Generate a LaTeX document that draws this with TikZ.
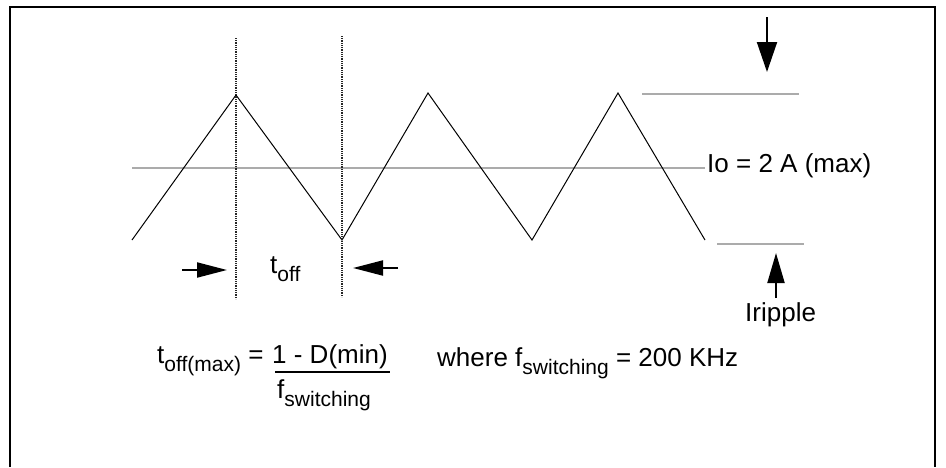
\documentclass[tikz,border=0pt]{standalone}
\usepackage{fontspec}
\setmainfont{Liberation Sans}
\usetikzlibrary{arrows.meta}
\newcommand{\mainsz}{\fontsize{26}{30}\selectfont}
\newcommand{\subtxt}[1]{\raisebox{-8pt}{\fontsize{21}{24}\selectfont #1}}
\begin{document}
\begin{tikzpicture}[x=1pt,y=-1pt,
  lbl/.style={inner sep=0pt, anchor=base west, font=\mainsz},
  wave/.style={line width=1pt, black, line join=miter},
  level/.style={line width=2pt, color=black!33},
  marker/.style={line width=1.3pt, black!85, dash pattern=on 1pt off 0.8pt},
  bigarrow/.style={line width=2pt, -{Triangle[length=30pt,width=20pt]}},
  smallarrow/.style={line width=2pt, -{Triangle[length=30pt,width=15pt]}},
  frame/.style={line width=2.5pt, black}]
\useasboundingbox (0,0) rectangle (946,467);
% frame
\draw[frame] (10,467) -- (10,7) -- (935,7) -- (935,467);
% level lines
\draw[level] (132,168) -- (705,168);
\draw[level] (642,94) -- (799,94);
\draw[level] (717,244) -- (804,244);
% triangle wave
\draw[wave] (132,240) -- (236,95) -- (342,240) -- (428,93) -- (532,240) -- (618,93) -- (705,240);
% dotted markers
\draw[marker] (236,38) -- (236,299);
\draw[marker] (342,36) -- (342,297);
% arrows
\coordinate (dA) at (767,17);
\coordinate (dB) at (767,72);
\draw[bigarrow] (dA) -- (dB);
\coordinate (uA) at (776,298);
\coordinate (uB) at (776,253);
\draw[line width=2pt, -{Triangle[length=30pt,width=17pt]}] (uA) -- (uB);
\coordinate (lA) at (182,270);
\coordinate (lB) at (227,270);
\draw[smallarrow] (lA) -- (lB);
\coordinate (rA) at (398,268);
\coordinate (rB) at (353,268);
\draw[smallarrow] (rA) -- (rB);
% labels
\node[lbl] (io) at (707,172) {Io = 2 A (max)};
\node[lbl] (irip) at (745,321) {Iripple};
\node[lbl] (toff) at (270,273) {t\subtxt{off}};
% equation
\node[lbl] (teq) at (157,363) {t\subtxt{off(max)} =};
\node[lbl] (num) at (272,363) {1 - D(min)};
\coordinate (barL) at (275,372);
\coordinate (barR) at (390,372);
\draw[line width=2pt] (barL) -- (barR);
\node[lbl] (den) at (277,398) {f\subtxt{switching}};
\node[lbl] (where) at (437,366) {where f\subtxt{switching} = 200 KHz};
\end{tikzpicture}
\end{document}
